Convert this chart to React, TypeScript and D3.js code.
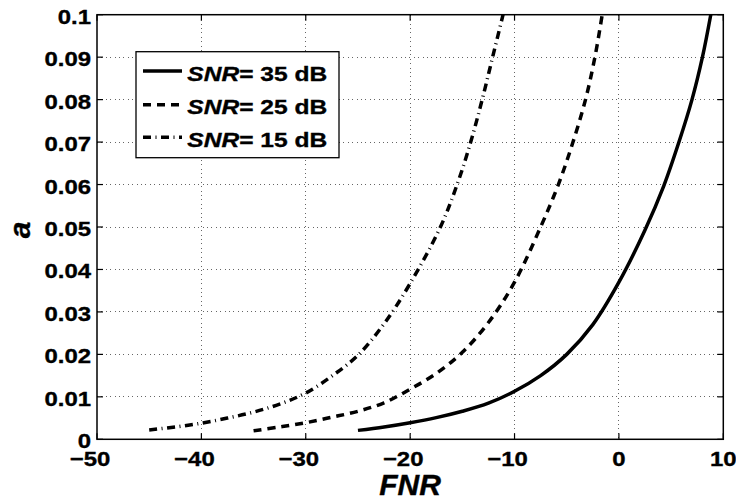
import React from "react";
import * as d3 from "d3";

// ---- data ----
const fnr35 = [-25, -22.5, -20, -17.5, -15, -12.5, -10, -7.5, -5, -2.5, 0, 2.5, 4.3, 5.75, 7.0, 8.0, 8.8];
const a35 = [0.0021, 0.0029, 0.0039, 0.0051, 0.0066, 0.0085, 0.0113, 0.015, 0.02, 0.027, 0.037, 0.0493, 0.0597, 0.07, 0.08, 0.09, 0.1];

const fnr25 = [-35, -32.5, -30, -27.5, -25, -22.5, -20, -17.5, -15, -12.5, -10, -7.5, -5.8, -4.4, -3.2, -2.3, -1.6];
const a25 = [0.002, 0.0029, 0.0039, 0.0052, 0.0066, 0.0086, 0.0118, 0.0155, 0.0205, 0.0275, 0.037, 0.05, 0.06, 0.07, 0.08, 0.09, 0.1];

const fnr15 = [-45, -42.5, -40, -37.5, -35, -32.5, -30, -27.5, -25, -22.5, -20, -17.1, -15.5, -14.2, -13.1, -12.1, -11.1];
const a15 = [0.0022, 0.0029, 0.0038, 0.005, 0.0064, 0.0083, 0.0109, 0.0149, 0.0198, 0.0272, 0.0367, 0.05, 0.06, 0.07, 0.08, 0.09, 0.1];

const seriesNames = ["35", "25", "15"];
const xTicks = [-50, -40, -30, -20, -10, 0, 10];
const yTicks = [0, 0.01, 0.02, 0.03, 0.04, 0.05, 0.06, 0.07, 0.08, 0.09, 0.1];
const yTickLabels = ["0", "0.01", "0.02", "0.03", "0.04", "0.05", "0.06", "0.07", "0.08", "0.09", "0.1"];

const W = 736;
const H = 501;
const L = 97, R = 723.3, T = 14.7, B = 439.3;

const FONT = "'Liberation Sans', Arial, Helvetica, sans-serif";
const FS = 21;
const SX = 1.14;

export default function App() {
  const x = d3.scaleLinear().domain([-50, 10]).range([L, R]);
  const y = d3.scaleLinear().domain([0, 0.1]).range([B, T]);

  const line = d3
    .line<[number, number]>()
    .x((d) => x(d[0]))
    .y((d) => y(d[1]))
    .curve(d3.curveCatmullRom.alpha(0.5));

  const series = [
    { fnr: fnr35, a: a35, dash: undefined as string | undefined },
    { fnr: fnr25, a: a25, dash: "8,6" },
    { fnr: fnr15, a: a15, dash: "8,4.5,1,4.5" },
  ];

  const tickLen = 6;
  const digitW = 0.556 * FS * SX;

  const legendRows = [80.5, 114.3, 146.7];

  return (
    <svg
      width={W}
      height={H}
      style={{ position: "absolute", left: 0, top: 0, background: "#fff" }}
      fontFamily={FONT}
    >
      <rect x={0} y={0} width={W} height={H} fill="#fff" />
      <defs>
        <clipPath id="plotclip">
          <rect x={L} y={T} width={R - L} height={B - T} />
        </clipPath>
      </defs>

      {/* grid */}
      <g stroke="#666" strokeWidth={1} strokeDasharray="1,3.4" shapeRendering="crispEdges">
        {xTicks.slice(1, -1).map((t) => (
          <line key={"gx" + t} x1={x(t)} x2={x(t)} y1={T} y2={B} />
        ))}
        {yTicks.slice(1, -1).map((t) => (
          <line key={"gy" + t} x1={L} x2={R} y1={y(t)} y2={y(t)} />
        ))}
      </g>

      {/* ticks */}
      <g stroke="#000" strokeWidth={1.2}>
        {xTicks.map((t) => (
          <g key={"tx" + t}>
            <line x1={x(t)} x2={x(t)} y1={B} y2={B - tickLen} />
            <line x1={x(t)} x2={x(t)} y1={T} y2={T + tickLen} />
          </g>
        ))}
        {yTicks.map((t) => (
          <g key={"ty" + t}>
            <line x1={L} x2={L + tickLen} y1={y(t)} y2={y(t)} />
            <line x1={R} x2={R - tickLen} y1={y(t)} y2={y(t)} />
          </g>
        ))}
      </g>

      {/* curves */}
      <g clipPath="url(#plotclip)" fill="none" stroke="#000" strokeWidth={3.5}>
        {series.map((s, i) => (
          <path
            key={"s" + i}
            d={line(s.fnr.map((f, j) => [f, s.a[j]] as [number, number])) || ""}
            strokeDasharray={s.dash}
            strokeLinejoin="round"
          />
        ))}
      </g>

      {/* axis box */}
      <rect x={L} y={T} width={R - L} height={B - T} fill="none" stroke="#000" strokeWidth={1.5} />

      {/* tick labels */}
      <g fontSize={FS} fontWeight="bold" fill="#000" stroke="#000" strokeWidth={0.35}>
        {yTicks.map((t, i) => (
          <text
            key={"yl" + t}
            transform={`translate(91,${y(t) + 9}) scale(${SX},1)`}
            textAnchor="end"
          >
            {yTickLabels[i]}
          </text>
        ))}
        {xTicks.map((t) => {
          const s = String(Math.abs(t));
          const neg = t < 0;
          const right = x(t) + (s.length * digitW) / 2;
          return (
            <text
              key={"xl" + t}
              transform={`translate(${right},466) scale(${SX},1)`}
              textAnchor="end"
            >
              {(neg ? "\u2212" : "") + s}
            </text>
          );
        })}
      </g>

      {/* axis labels */}
      <text
        x={410}
        y={495}
        textAnchor="middle"
        fontSize={30}
        fontWeight="bold"
        fontStyle="italic"
        fill="#000"
        stroke="#000"
        strokeWidth={0.4}
      >
        FNR
      </text>
      <text
        transform="translate(29.5,230) rotate(-90)"
        textAnchor="middle"
        fontSize={30}
        fontWeight="bold"
        fontStyle="italic"
        fill="#000"
        stroke="#000"
        strokeWidth={0.4}
      >
        a
      </text>

      {/* legend */}
      <rect x={136} y={51.7} width={203} height={106} fill="#fff" stroke="#000" strokeWidth={1.3} />
      {series.map((s, i) => (
        <g key={"lg" + i}>
          <line
            x1={143}
            x2={182}
            y1={legendRows[i] - 9.5}
            y2={legendRows[i] - 9.5}
            stroke="#000"
            strokeWidth={3.5}
            strokeDasharray={s.dash}
          />
          <text
            transform={`translate(187.3,${legendRows[i]}) scale(1.17,1)`}
            fontSize={FS}
            fontWeight="bold"
            fill="#000"
            stroke="#000"
            strokeWidth={0.35}
          >
            <tspan fontStyle="italic">SNR</tspan>
            <tspan>{"= " + seriesNames[i] + " dB"}</tspan>
          </text>
        </g>
      ))}
    </svg>
  );
}
